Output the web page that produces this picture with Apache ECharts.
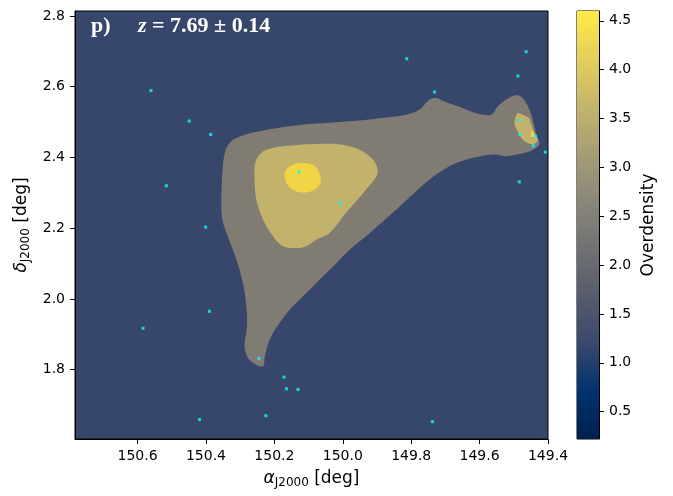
<!DOCTYPE html>
<html><head><meta charset="utf-8">
<script src="https://cdn.jsdelivr.net/npm/echarts@6/dist/echarts.min.js"></script>
<style>html,body{margin:0;padding:0;background:#fff}#c{width:673px;height:496px}</style>
</head><body><div id="c"></div>
<script>
// ---------- data ----------
const panelLabel = 'p)';
const zMean = 7.69, zErr = 0.14;
const raRange = [149.4, 150.783];
const decRange = [1.604, 2.814];
const raTicks = [149.4, 149.6, 149.8, 150.0, 150.2, 150.4, 150.6];
const decTicks = [1.8, 2.0, 2.2, 2.4, 2.6, 2.8];
const cbarRange = [0.22, 4.6];
const cbarTicks = [0.5, 1.0, 1.5, 2.0, 2.5, 3.0, 3.5, 4.0, 4.5];

// galaxy positions
const galRA  = [150.561,150.449,150.386,150.516,150.401,150.128,150.009,149.813,149.732,149.464,149.488,149.484,149.482,149.437,149.443,149.408,149.484,150.584,150.390,150.245,150.172,150.165,150.131,150.225,150.419,149.738];
const galDec = [2.589,2.503,2.465,2.320,2.203,2.359,2.271,2.679,2.585,2.699,2.630,2.504,2.465,2.460,2.433,2.415,2.331,1.917,1.965,1.832,1.779,1.746,1.744,1.670,1.659,1.653];

// contour level outlines [ra, dec]
const contourLow = [[150.345,2.413],[150.331,2.441],[150.301,2.459],[150.223,2.478],[150.126,2.492],[149.980,2.502],[149.893,2.511],[149.815,2.521],[149.776,2.535],[149.747,2.563],[149.727,2.568],[149.703,2.558],[149.649,2.540],[149.610,2.525],[149.566,2.521],[149.547,2.544],[149.523,2.563],[149.498,2.575],[149.479,2.572],[149.464,2.554],[149.450,2.525],[149.435,2.469],[149.425,2.441],[149.430,2.431],[149.455,2.417],[149.493,2.408],[149.523,2.403],[149.552,2.408],[149.601,2.403],[149.669,2.384],[149.747,2.337],[149.844,2.252],[149.922,2.186],[149.980,2.139],[150.009,2.111],[150.048,2.073],[150.097,2.026],[150.146,1.979],[150.185,1.932],[150.214,1.885],[150.228,1.838],[150.233,1.810],[150.253,1.814],[150.277,1.833],[150.287,1.866],[150.280,1.923],[150.282,1.979],[150.292,2.045],[150.311,2.111],[150.333,2.168],[150.352,2.224],[150.355,2.281],[150.352,2.357]];
const contourMid = [[150.223,2.422],[150.126,2.436],[150.039,2.439],[150.000,2.436],[149.951,2.422],[149.912,2.394],[149.898,2.365],[149.902,2.346],[149.941,2.299],[149.990,2.244],[150.039,2.186],[150.077,2.168],[150.107,2.149],[150.136,2.144],[150.175,2.149],[150.204,2.177],[150.233,2.224],[150.253,2.281],[150.258,2.346],[150.253,2.394]];
const contourHigh = [[150.170,2.356],[150.155,2.375],[150.126,2.384],[150.087,2.379],[150.068,2.356],[150.066,2.328],[150.082,2.309],[150.117,2.301],[150.146,2.309],[150.165,2.328]];
const contourMidEast = [[149.498,2.497],[149.489,2.525],[149.474,2.521],[149.455,2.511],[149.450,2.497],[149.440,2.469],[149.430,2.450],[149.440,2.439],[149.455,2.439],[149.474,2.450],[149.486,2.469]];
const contourHighEast = [[149.449,2.475],[149.443,2.473],[149.441,2.459],[149.449,2.459]];

// ---------- styles ----------
const cividisStops = ['#00204D','#00336F','#39486B','#575C6D','#707173','#8A8779','#A69D75','#C4B56C','#E4CF5B','#FFEA46'];
const fillBg = '#37476b', fillLow = '#807c74', fillMid = '#c2b26c', fillHigh = '#f1d544';
const tickFont = {fontFamily:'DejaVu Sans', fontSize:14, color:'#000'};

const chart = echarts.init(document.getElementById('c'), null, {renderer:'canvas'});

function polySeries(poly, color, smooth) {
  return {
    type:'custom', xAxisIndex:0, yAxisIndex:0, clip:true, silent:true, z:2,
    data: poly,
    renderItem: function (params, api) {
      if (params.dataIndex !== 0) return;
      const pts = poly.map(p => api.coord(p));
      return {type:'polygon', shape:{points:pts, smooth:smooth}, style:{fill:color, stroke:null}};
    }
  };
}

const fmt1 = v => Number(v).toFixed(1);
const nameRich = {
  g:{fontFamily:'DejaVu Sans', fontStyle:'italic', fontSize:17, color:'#000'},
  s:{fontFamily:'DejaVu Sans', fontSize:12, color:'#000', padding:[8,0,0,0]},
  b:{fontFamily:'DejaVu Sans', fontSize:17, color:'#000'}
};

const option = {
  animation:false,
  backgroundColor:'#fff',
  title:{
    left:91, top:15, padding:0,
    text:'{p|' + panelLabel + '}{z|z}{r| = ' + zMean.toFixed(2) + ' ± ' + zErr.toFixed(2) + '}',
    textStyle:{rich:{
      p:{fontFamily:'Liberation Serif', fontWeight:'bold', fontSize:22, color:'#fff', width:47},
      z:{fontFamily:'Liberation Serif', fontWeight:'bold', fontStyle:'italic', fontSize:22, color:'#fff'},
      r:{fontFamily:'Liberation Serif', fontWeight:'bold', fontSize:22, color:'#fff'}
    }}
  },
  grid:[
    {left:75, top:11, width:473, height:428, show:true, backgroundColor:fillBg, borderColor:'#000', borderWidth:1, containLabel:false, outerBoundsMode:'none'},
    {left:577, top:11, width:22, height:428, show:true, borderColor:'#000', borderWidth:1, containLabel:false, outerBoundsMode:'none'}
  ],
  xAxis:[
    {type:'value', gridIndex:0, min:raRange[0], max:raRange[1], inverse:true,
     axisLine:{show:true, onZero:false, lineStyle:{color:'#000', width:1}},
     axisTick:{show:true, length:5, lineStyle:{color:'#000'}, customValues:raTicks},
     axisLabel:{show:true, margin:10, ...tickFont, formatter:fmt1, customValues:raTicks},
     splitLine:{show:false},
     name:'{g|α}{s|J2000}{b| [deg]}', nameLocation:'middle', nameGap:30,
     nameTextStyle:{rich:nameRich}},
    {type:'value', gridIndex:1, min:0, max:1, show:false}
  ],
  yAxis:[
    {type:'value', gridIndex:0, min:decRange[0], max:decRange[1],
     axisLine:{show:true, onZero:false, lineStyle:{color:'#000', width:1}},
     axisTick:{show:true, length:5, lineStyle:{color:'#000'}, customValues:decTicks},
     axisLabel:{show:true, margin:10, ...tickFont, formatter:fmt1, customValues:decTicks},
     splitLine:{show:false},
     name:'{g|δ}{s|J2000}{b| [deg]}', nameLocation:'middle', nameGap:43, nameRotate:90,
     nameTextStyle:{rich:nameRich}},
    {type:'value', gridIndex:1, position:'right', min:cbarRange[0], max:cbarRange[1],
     axisLine:{show:true, onZero:false, lineStyle:{color:'#000', width:1}},
     axisTick:{show:true, length:5, lineStyle:{color:'#000'}, customValues:cbarTicks},
     axisLabel:{show:true, margin:10, ...tickFont, formatter:fmt1, customValues:cbarTicks},
     splitLine:{show:false},
     name:'Overdensity', nameLocation:'middle', nameGap:41, nameRotate:90,
     nameTextStyle:{fontFamily:'DejaVu Sans', fontSize:17, color:'#000'}}
  ],
  series:[
    polySeries(contourLow, fillLow, 0.35),
    polySeries(contourMid, fillMid, 0.35),
    polySeries(contourHigh, fillHigh, 0.35),
    polySeries(contourMidEast, fillMid, 0.35),
    polySeries(contourHighEast, fillHigh, 0.35),
    {type:'scatter', xAxisIndex:0, yAxisIndex:0, z:5, silent:true,
     symbol:'rect', symbolSize:3, itemStyle:{color:'#00ffff'},
     data: galRA.map((r,i) => [r, galDec[i]])},
    {type:'custom', xAxisIndex:1, yAxisIndex:1, silent:true, z:2,
     data:[[0, cbarRange[0]],[1, cbarRange[1]]],
     renderItem:function(params, api){
       if (params.dataIndex !== 0) return;
       const p0 = api.coord([0, cbarRange[1]]);
       const p1 = api.coord([1, cbarRange[0]]);
       const stops = cividisStops.map((c,i) => ({offset: 1 - i/(cividisStops.length-1), color:c})).reverse();
       return {type:'rect', shape:{x:p0[0], y:p0[1], width:p1[0]-p0[0], height:p1[1]-p0[1]},
               style:{fill:new echarts.graphic.LinearGradient(0,0,0,1,stops), stroke:null}};
     }}
  ]
};
chart.setOption(option);
</script></body></html>
